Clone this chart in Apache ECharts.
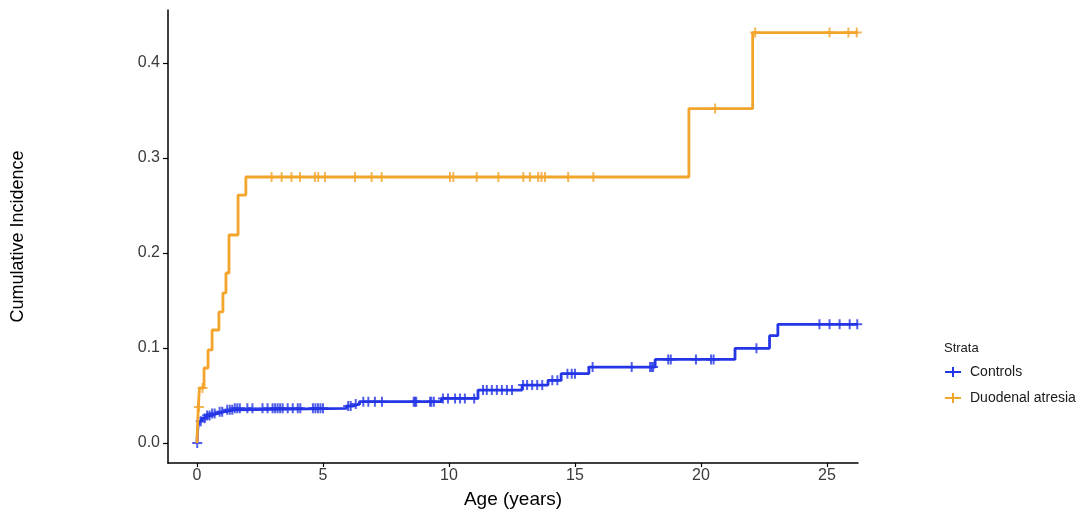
<!DOCTYPE html>
<html>
<head>
<meta charset="utf-8">
<script src="https://cdn.jsdelivr.net/npm/echarts@6/dist/echarts.min.js"></script>
<style>html,body{margin:0;padding:0;background:#fff}#c{width:1080px;height:517px}</style>
</head>
<body>
<div id="c"></div>
<script>
// ---- data ----
const xTicks = [0, 5, 10, 15, 20, 25];
const yTicks = [0.0, 0.1, 0.2, 0.3, 0.4];
const seriesNames = ['Controls', 'Duodenal atresia'];

// step times (years) and cumulative incidence after each step
const ctrlTimes  = [0, 0.02, 0.05, 0.1, 0.2, 0.35, 0.55, 0.8, 1.1, 1.5, 5.94, 6.2, 6.45, 9.7, 11.15, 12.9, 13.93, 14.45, 15.55, 18.18, 21.35, 22.72, 23.05, 26.23];
const ctrlValues = [0, 0.012, 0.019, 0.023, 0.026, 0.029, 0.031, 0.033, 0.035, 0.0365, 0.039, 0.041, 0.0435, 0.047, 0.0558, 0.061, 0.066, 0.073, 0.080, 0.088, 0.0997, 0.113, 0.125, 0.125];
const ctrlCensor = [0.01, 0.15, 0.3, 0.4, 0.5, 0.6, 0.7, 0.9, 1.0, 1.2, 1.3, 1.4, 1.5, 1.6, 1.7, 2.0, 2.2, 2.6, 2.8, 3.0, 3.1, 3.2, 3.3, 3.4, 3.6, 3.8, 4.0, 4.1, 4.6, 4.7, 4.8, 4.9, 5.0, 6.0, 6.1, 6.3, 6.6, 6.8, 7.06, 7.34, 8.6, 8.65, 8.7, 9.25, 9.3, 9.4, 9.76, 9.96, 10.24, 10.44, 10.63, 11.0, 11.35, 11.5, 11.7, 11.9, 12.1, 12.3, 12.5, 12.94, 13.1, 13.3, 13.5, 13.7, 14.1, 14.3, 14.7, 14.87, 15.0, 15.7, 17.25, 17.98, 18.04, 18.1, 18.7, 18.8, 19.8, 20.4, 20.5, 22.2, 24.7, 25.1, 25.5, 25.9, 26.2];

const daTimes  = [0, 0.05, 0.1, 0.28, 0.44, 0.6, 0.87, 1.03, 1.15, 1.27, 1.63, 1.94, 19.52, 22.05, 26.23];
const daValues = [0, 0.038, 0.058, 0.079, 0.098, 0.119, 0.138, 0.158, 0.179, 0.219, 0.261, 0.280, 0.352, 0.432, 0.432];
const daCensor = [0.08, 0.22, 2.96, 3.36, 3.75, 4.09, 4.68, 4.81, 5.08, 6.27, 6.93, 7.33, 10.04, 10.17, 11.1, 11.96, 12.95, 13.21, 13.54, 13.67, 13.81, 14.73, 15.73, 20.56, 22.15, 25.1, 25.85, 26.18];

// ---- helpers ----
function pairs(t, v) { return t.map((x, i) => [x, v[i]]); }
function stepAt(t, v, x) {
  let y = v[0];
  for (let i = 0; i < t.length; i++) { if (t[i] <= x) y = v[i]; else break; }
  return y;
}
function censorPts(ct, t, v) { return ct.map(x => [x, stepAt(t, v, x)]); }

const BLUE = '#2436e6';
const ORANGE = '#f3a42c';
const PLUS = 'path://M4,0h2v4h4v2h-4v4h-2v-4h-4v-2h4z';
const LEGICON = 'path://M0,4h16v2h-16z M7,0h2v10h-2z';
const FONT = 'Liberation Sans, Arial, sans-serif';

const chart = echarts.init(document.getElementById('c'), null, {renderer: 'canvas'});
chart.setOption({
  animation: false,
  backgroundColor: '#fff',
  title: {
    text: 'Strata', left: 939, top: 337,
    textStyle: {fontFamily: FONT, fontSize: 13, fontWeight: 'normal', color: '#1a1a1a'}
  },
  legend: {
    data: seriesNames, orient: 'vertical', left: 940, top: 360,
    itemWidth: 16, itemHeight: 10, itemGap: 12, icon: LEGICON,
    textStyle: {fontFamily: FONT, fontSize: 14, color: '#1a1a1a', padding: [0, 0, 0, 4]}
  },
  grid: {left: 168, right: 222, top: 10, bottom: 54, containLabel: false},
  xAxis: {
    type: 'value', min: -1.15, max: 26.23,
    name: 'Age (years)', nameLocation: 'middle', nameGap: 27,
    nameTextStyle: {fontFamily: FONT, fontSize: 19, color: '#000'},
    axisLine: {show: true, onZero: false, lineStyle: {color: '#000', width: 1.5}},
    axisTick: {show: true, length: 4, lineStyle: {color: '#000', width: 1.2}, customValues: xTicks},
    axisLabel: {customValues: xTicks, fontFamily: FONT, fontSize: 16, color: '#3a3a3a', margin: 5},
    splitLine: {show: false}
  },
  yAxis: {
    type: 'value', min: -0.021, max: 0.4558,
    name: 'Cumulative Incidence', nameLocation: 'middle', nameGap: 141, nameRotate: 90,
    nameTextStyle: {fontFamily: FONT, fontSize: 18, color: '#000'},
    axisLine: {show: true, onZero: false, lineStyle: {color: '#000', width: 1.5}},
    axisTick: {show: true, length: 5, lineStyle: {color: '#000', width: 1.2}, customValues: yTicks},
    axisLabel: {customValues: yTicks, fontFamily: FONT, fontSize: 16, color: '#3a3a3a', margin: 8,
      formatter: v => v.toFixed(1)},
    splitLine: {show: false}
  },
  series: [
    {name: 'Controls', type: 'line', step: 'end', data: pairs(ctrlTimes, ctrlValues),
      showSymbol: false, symbol: 'none', color: BLUE, lineStyle: {color: BLUE, width: 2.8}, z: 2},
    {name: 'Controls censor', type: 'scatter', data: censorPts(ctrlCensor, ctrlTimes, ctrlValues),
      symbol: PLUS, symbolSize: 10, itemStyle: {color: BLUE}, z: 3},
    {name: 'Duodenal atresia', type: 'line', step: 'end', data: pairs(daTimes, daValues),
      showSymbol: false, symbol: 'none', color: ORANGE, lineStyle: {color: ORANGE, width: 2.8}, z: 4},
    {name: 'Duodenal atresia censor', type: 'scatter', data: censorPts(daCensor, daTimes, daValues),
      symbol: PLUS, symbolSize: 10, itemStyle: {color: ORANGE}, z: 5}
  ]
});
</script>
</body>
</html>
